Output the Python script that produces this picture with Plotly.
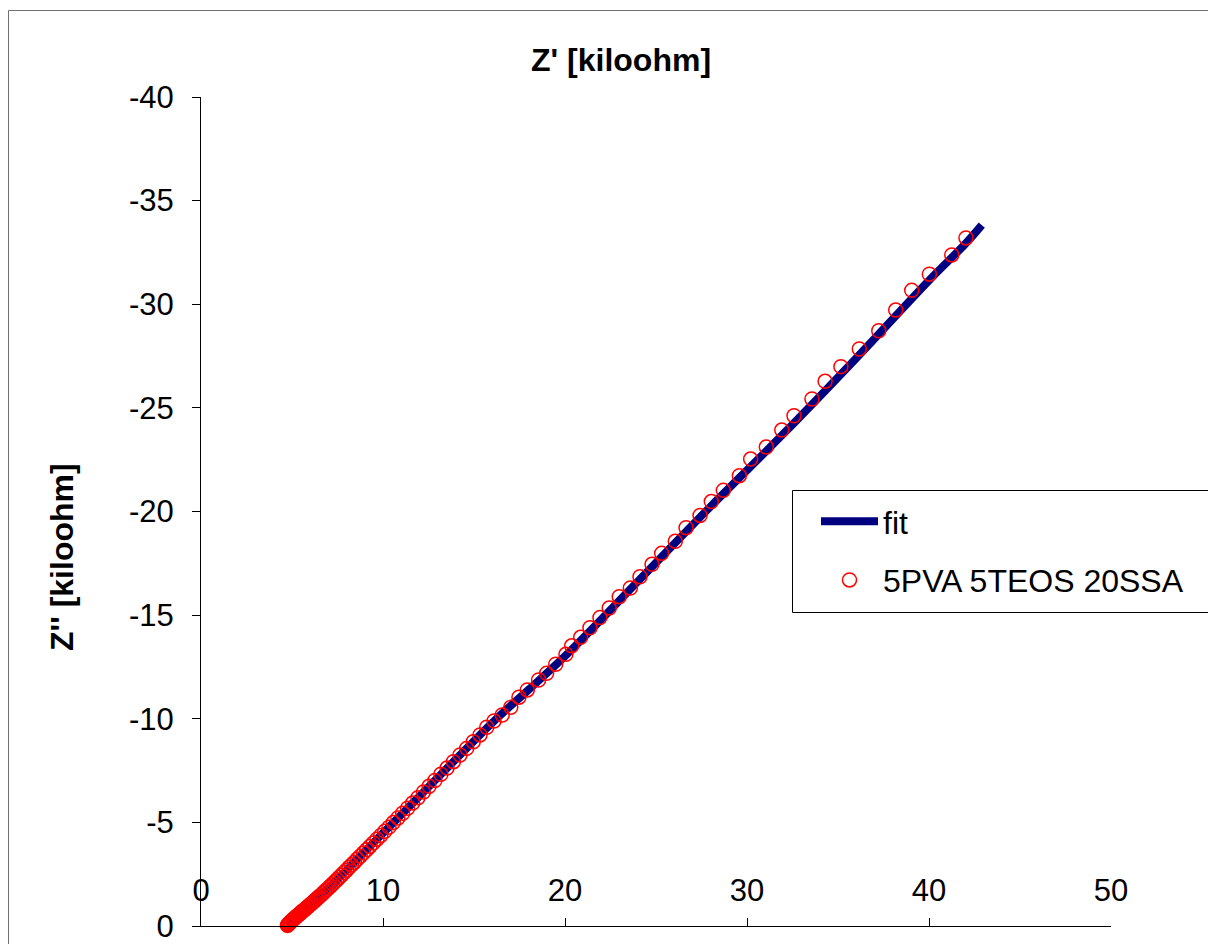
import plotly.graph_objects as go

# ---- data ----
data_x = [4.75, 4.77, 4.80, 4.83, 4.87, 4.91, 4.95, 5.00, 5.05, 5.10, 5.15, 5.20, 5.26, 5.32, 5.38,
          5.44, 5.50, 5.56, 5.63, 5.70, 5.77, 5.84, 5.91, 5.99, 6.07, 6.15, 6.23, 6.32, 6.41, 6.50,
          6.60, 6.70, 6.80, 6.90, 7.01, 7.12, 7.23, 7.35, 7.47, 7.59, 7.72, 7.85, 7.99, 8.13, 8.28,
          8.43, 8.59, 8.75, 8.92, 9.10, 9.28, 9.47, 9.67, 9.88, 10.10, 10.33, 10.57, 10.82, 11.08,
          11.35, 11.63, 11.92, 12.22, 12.53, 12.85, 13.18, 13.52, 13.87, 14.23, 14.60, 14.96, 15.33,
          15.70, 16.10, 16.55, 17.02, 17.47, 17.93, 18.55, 18.99, 19.49, 20.05, 20.37, 20.86, 21.37,
          21.92, 22.43, 22.98, 23.59, 24.12, 24.78, 25.31, 26.06, 26.65, 27.42, 28.04, 28.70, 29.58,
          30.20, 31.06, 31.91, 32.58, 33.57, 34.29, 35.16, 36.17, 37.24, 38.17, 39.05, 40.02, 41.25,
          42.03]
data_y = [-0.03, -0.05, -0.08, -0.11, -0.15, -0.18, -0.22, -0.26, -0.30, -0.34, -0.38, -0.42, -0.47,
          -0.51, -0.56, -0.60, -0.65, -0.70, -0.75, -0.80, -0.85, -0.90, -0.96, -1.02, -1.08, -1.14,
          -1.21, -1.28, -1.35, -1.42, -1.50, -1.58, -1.66, -1.75, -1.84, -1.93, -2.03, -2.13, -2.23,
          -2.34, -2.45, -2.57, -2.69, -2.82, -2.95, -3.08, -3.23, -3.37, -3.52, -3.68, -3.84, -4.01,
          -4.19, -4.37, -4.57, -4.77, -4.99, -5.21, -5.44, -5.68, -5.93, -6.19, -6.46, -6.74, -7.02,
          -7.32, -7.62, -7.93, -8.25, -8.57, -8.89, -9.22, -9.59, -9.89, -10.18, -10.55, -11.04,
          -11.39, -11.87, -12.19, -12.63, -13.11, -13.52, -13.93, -14.39, -14.88, -15.34, -15.89,
          -16.31, -16.85, -17.45, -17.98, -18.56, -19.22, -19.81, -20.48, -21.02, -21.73, -22.53,
          -23.11, -23.93, -24.62, -25.43, -26.28, -26.99, -27.84, -28.72, -29.72, -30.67, -31.45,
          -32.38, -33.20]

fit_x = [4.75, 5.2, 5.7, 6.5, 7.5, 8.5, 10.0, 12.0, 14.23, 16.1, 18.0, 20.0, 24.0, 28.0, 32.0,
         36.0, 40.0, 42.0, 42.9]
fit_y = [-0.03, -0.42, -0.80, -1.42, -2.25, -3.15, -4.48, -6.26, -8.25, -9.89, -11.40, -13.02,
         -16.62, -20.24, -23.75, -27.40, -31.15, -32.92, -33.82]

x_ticks = [0, 10, 20, 30, 40, 50]
y_ticks = [-40, -35, -30, -25, -20, -15, -10, -5, 0]

FONT = "Liberation Sans, Arial, sans-serif"

fig = go.Figure()
fig.add_trace(go.Scatter(x=fit_x, y=fit_y, mode="lines", name="fit", legendgroup="fit",
                         line=dict(color="#000080", width=8, shape="spline"),
                         cliponaxis=False))
fig.add_trace(go.Scatter(x=data_x, y=data_y, mode="markers", name="5PVA 5TEOS 20SSA",
                         legendgroup="data",
                         marker=dict(symbol="circle-open", size=14, color="#FF0000",
                                     line=dict(width=1.5, color="#FF0000")),
                         cliponaxis=False))

L, R, T, B = 201, 1111, 97, 926
W, H = 1208, 944
pw, ph = R - L, B - T


def px(xp):
    return (xp - L) / pw


def py(yp):
    return (B - yp) / ph


fig.update_layout(
    width=W, height=H,
    margin=dict(l=L, r=W - R, t=T, b=H - B, pad=0, autoexpand=False),
    paper_bgcolor="white", plot_bgcolor="white",
    font=dict(family=FONT, size=31, color="black"),
    showlegend=True,
    legend=dict(x=px(816), y=py(494), xanchor="left", yanchor="top",
                bgcolor="rgba(0,0,0,0)", borderwidth=0,
                font=dict(family=FONT, size=32, color="black"),
                itemwidth=57, tracegroupgap=14),
    xaxis=dict(range=[0, 50], tickvals=x_ticks, ticktext=[str(v) for v in x_ticks],
               showgrid=False, zeroline=False, showline=True, linecolor="black", linewidth=1,
               ticks="inside", ticklen=8, tickcolor="black", ticklabelposition="outside",
               ticklabelstandoff=-63, automargin=False,
               tickfont=dict(family=FONT, size=31, color="black"), fixedrange=True),
    yaxis=dict(range=[0, -40], tickvals=y_ticks, ticktext=[str(v) for v in y_ticks],
               showgrid=False, zeroline=False, showline=True, linecolor="black", linewidth=1,
               ticks="outside", ticklen=8, tickcolor="black", ticklabelstandoff=12,
               automargin=False,
               tickfont=dict(family=FONT, size=31, color="black"), fixedrange=True),
    shapes=[
        dict(type="rect", xref="paper", yref="paper", x0=px(8.5), y0=py(10.5), x1=px(1230),
             y1=py(960), line=dict(color="#707070", width=1), fillcolor="rgba(0,0,0,0)",
             layer="below"),
        dict(type="rect", xref="paper", yref="paper", x0=px(792.5), y0=py(490.5), x1=px(1230),
             y1=py(612.5), line=dict(color="black", width=1), fillcolor="rgba(0,0,0,0)",
             layer="above"),
    ],
    annotations=[
        dict(text="<b>Z' [kiloohm]</b>", xref="paper", yref="paper", x=px(621), y=py(60),
             xanchor="center", yanchor="middle", showarrow=False,
             font=dict(family=FONT, size=32, color="black")),
        dict(text="<b>Z'' [kiloohm]</b>", xref="paper", yref="paper", x=px(62), y=py(557),
             xanchor="center", yanchor="middle", showarrow=False, textangle=-90,
             font=dict(family=FONT, size=32, color="black")),
    ],
)

fig.write_html("out.html")
